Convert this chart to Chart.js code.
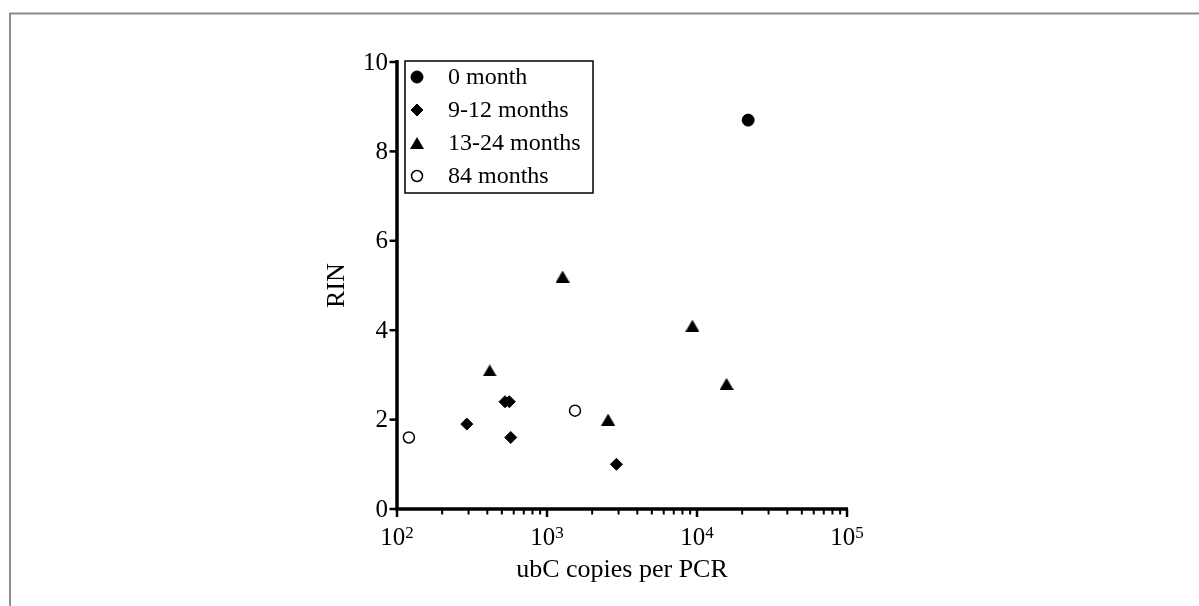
<!DOCTYPE html>
<html>
<head>
<meta charset="utf-8">
<title>RIN vs ubC copies</title>
<script src="https://cdn.jsdelivr.net/npm/chart.js"></script>
<style>
  html, body { margin: 0; padding: 0; background: #fff; }
  canvas { display: block; }
</style>
</head>
<body>
<canvas id="rinChart" width="1199" height="606"></canvas>
<script>
const ctx = document.getElementById("rinChart");

// storage-time groups
const groupNames = ["0 month", "9-12 months", "13-24 months", "84 months"];

const ubcZeroMonth = [21930];
const rinZeroMonth = [8.7];

const ubcNineToTwelve = [292, 525, 561, 573, 2904];
const rinNineToTwelve = [1.9, 2.4, 2.4, 1.6, 1.0];

const ubcThirteenToTwentyFour = [415, 1270, 2555, 9315, 15730];
const rinThirteenToTwentyFour = [3.1, 5.2, 2.0, 4.1, 2.8];

const ubcEightyFour = [120, 1537];
const rinEightyFour = [1.6, 2.2];

// axis ticks
const rinTicks = [0, 2, 4, 6, 8, 10];
const ubcTickBase = "10";
const ubcTickExponents = [2, 3, 4, 5];

const serif = "'Liberation Serif', 'Times New Roman', serif";

// GraphPad style triangle, centred on its bounding box
function makeTriangle() {
  const c = document.createElement("canvas");
  c.width = 14;
  c.height = 12;
  const g = c.getContext("2d");
  g.fillStyle = "#000";
  g.beginPath();
  g.moveTo(7, 0);
  g.lineTo(14, 12);
  g.lineTo(0, 12);
  g.closePath();
  g.fill();
  return c;
}
const triangle = makeTriangle();

function toPoints(xs, ys) {
  return xs.map((x, i) => ({ x: x, y: ys[i] }));
}

const datasets = [
  {
    label: groupNames[0],
    data: toPoints(ubcZeroMonth, rinZeroMonth),
    pointStyle: "circle",
    pointRadius: 6,
    backgroundColor: "#000",
    borderColor: "#000",
    borderWidth: 1,
  },
  {
    label: groupNames[1],
    data: toPoints(ubcNineToTwelve, rinNineToTwelve),
    pointStyle: "rectRot",
    pointRadius: 6,
    backgroundColor: "#000",
    borderColor: "#000",
    borderWidth: 1,
  },
  {
    label: groupNames[2],
    data: toPoints(ubcThirteenToTwentyFour, rinThirteenToTwentyFour),
    pointStyle: triangle,
    pointRadius: 6,
    backgroundColor: "#000",
    borderColor: "#000",
    borderWidth: 0,
  },
  {
    label: groupNames[3],
    data: toPoints(ubcEightyFour, rinEightyFour),
    pointStyle: "circle",
    pointRadius: 5.5,
    backgroundColor: "#fff",
    borderColor: "#000",
    borderWidth: 1.5,
  },
];

// frame, axes with outward ticks, and the x labels with superscripts
const axesPlugin = {
  id: "prismAxes",
  beforeDraw(chart) {
    const c = chart.ctx;
    c.save();
    c.fillStyle = "#fff";
    c.fillRect(0, 0, chart.width, chart.height);
    c.strokeStyle = "#8c8c8c";
    c.lineWidth = 2;
    c.beginPath();
    c.moveTo(10, chart.height + 5);
    c.lineTo(10, 13.5);
    c.lineTo(chart.width + 5, 13.5);
    c.stroke();
    c.restore();
  },
  beforeDatasetsDraw(chart) {
    const c = chart.ctx;
    const xs = chart.scales.x;
    const ys = chart.scales.y;
    const area = chart.chartArea;
    c.save();
    c.strokeStyle = "#000";
    c.fillStyle = "#000";

    // axis lines
    c.lineWidth = 3.5;
    c.beginPath();
    c.moveTo(area.left, area.top - 2);
    c.lineTo(area.left, area.bottom);
    c.lineTo(area.right + 1, area.bottom);
    c.stroke();

    // y ticks and labels
    c.lineWidth = 2.5;
    c.font = "25px " + serif;
    c.textAlign = "right";
    c.textBaseline = "middle";
    rinTicks.forEach((v) => {
      const py = ys.getPixelForValue(v);
      c.beginPath();
      c.moveTo(area.left - 7.5, py);
      c.lineTo(area.left, py);
      c.stroke();
      c.fillText(String(v), area.left - 9, py + 1);
    });

    // x minor ticks
    c.lineWidth = 2;
    for (let e = 2; e < 5; e++) {
      for (let m = 2; m <= 9; m++) {
        const px = xs.getPixelForValue(m * Math.pow(10, e));
        c.beginPath();
        c.moveTo(px, area.bottom);
        c.lineTo(px, area.bottom + 5.5);
        c.stroke();
      }
    }

    // x major ticks with 10^n labels
    c.lineWidth = 2.5;
    c.textAlign = "left";
    c.textBaseline = "alphabetic";
    ubcTickExponents.forEach((e) => {
      const px = xs.getPixelForValue(Math.pow(10, e));
      c.beginPath();
      c.moveTo(px, area.bottom);
      c.lineTo(px, area.bottom + 8);
      c.stroke();

      c.font = "25px " + serif;
      const baseW = c.measureText(ubcTickBase).width;
      c.font = "17px " + serif;
      const expW = c.measureText(String(e)).width;
      const x0 = px - (baseW + expW) / 2;
      c.font = "25px " + serif;
      c.fillText(ubcTickBase, x0, 545);
      c.font = "17px " + serif;
      c.fillText(String(e), x0 + baseW, 538);
    });
    c.restore();
  },
  afterDraw(chart) {
    // boxed legend in the upper left of the plot
    const c = chart.ctx;
    const box = { left: 405, top: 61, width: 188, height: 132 };
    c.save();
    c.strokeStyle = "#000";
    c.lineWidth = 1.5;
    c.strokeRect(box.left, box.top, box.width, box.height);

    c.font = "24px " + serif;
    c.textAlign = "left";
    c.textBaseline = "middle";
    chart.data.datasets.forEach((ds, i) => {
      const y = 77 + i * 33;
      c.fillStyle = ds.backgroundColor;
      c.strokeStyle = ds.borderColor;
      c.lineWidth = ds.borderWidth;
      Chart.helpers.drawPoint(
        c,
        { pointStyle: ds.pointStyle, radius: ds.pointRadius, rotation: 0, borderWidth: ds.borderWidth },
        417,
        y
      );
      c.fillStyle = "#000";
      c.fillText(ds.label, 448, y + 1);
    });
    c.restore();
  },
};

const config = {
  type: "scatter",
  data: { datasets: datasets },
  options: {
    responsive: false,
    animation: false,
    events: [],
    devicePixelRatio: 1,
    layout: {
      padding: { left: 317, right: 352, top: 62, bottom: 17 },
    },
    plugins: {
      legend: { display: false },
      tooltip: { enabled: false },
    },
    scales: {
      x: {
        type: "logarithmic",
        min: 100,
        max: 100000,
        grid: { display: false },
        border: { display: false },
        ticks: { display: false },
        title: {
          display: true,
          text: "ubC copies per PCR",
          color: "#000",
          font: { family: serif, size: 26 },
          padding: { top: 0, bottom: 3.5 },
        },
        afterFit(scale) {
          scale.height = 80;
        },
      },
      y: {
        type: "linear",
        min: 0,
        max: 10,
        grid: { display: false },
        border: { display: false },
        ticks: { display: false },
        title: {
          display: true,
          text: "RIN",
          color: "#000",
          font: { family: serif, size: 26 },
          padding: { top: 4.5, bottom: 0 },
        },
        afterFit(scale) {
          scale.width = 80;
        },
      },
    },
  },
  plugins: [axesPlugin],
};

new Chart(ctx, config);
</script>
</body>
</html>
